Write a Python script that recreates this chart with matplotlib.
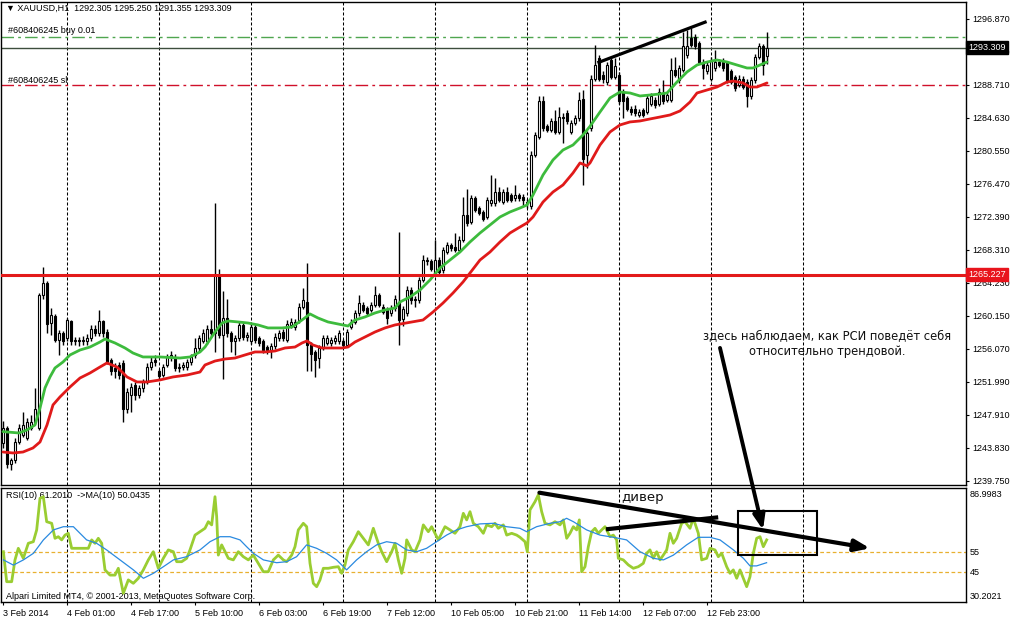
import matplotlib
matplotlib.use("Agg")
import matplotlib.pyplot as plt
from matplotlib.patches import Rectangle, ConnectionPatch
import numpy as np

# ---------------- data ----------------
opens = [1244.5,1246.3,1241.9,1242.3,1244.6,1245.4,1245.0,1246.3,1247.1,1246.3,
         1262.7,1264.2,1259.3,1260.1,1257.2,1258.0,1257.4,1259.5,1257.0,1257.2,
         1257.0,1257.0,1257.4,1258.6,1258.0,1259.5,1258.2,1254.7,1253.7,1254.1,
         1254.3,1248.7,1250.4,1251.6,1250.4,1251.2,1252.0,1253.9,1254.7,1253.3,
         1252.9,1254.1,1255.1,1255.0,1253.7,1253.9,1253.8,1254.4,1255.3,1256.2,
         1257.0,1257.0,1258.6,1258.0,1265.2,1257.8,1259.9,1258.0,1257.0,1257.4,
         1259.0,1257.6,1257.0,1258.8,1257.4,1257.0,1256.3,1256.0,1256.4,1257.4,
         1258.2,1257.2,1259.0,1258.8,1259.6,1261.3,1261.9,1256.6,1255.7,1254.9,
         1256.2,1256.8,1256.8,1257.0,1257.0,1257.0,1256.6,1258.8,1259.4,1260.5,
         1261.5,1261.1,1260.9,1261.5,1262.7,1261.3,1260.9,1260.5,1261.1,1261.9,
         1259.8,1260.5,1263.4,1262.3,1262.1,1264.6,1266.9,1266.9,1265.4,1267.1,
         1265.8,1268.1,1268.9,1268.7,1268.3,1269.6,1272.6,1271.8,1274.7,1273.5,
         1273.0,1272.4,1274.1,1274.1,1275.5,1274.3,1275.5,1275.1,1274.7,1275.1,
         1274.9,1274.3,1273.7,1280.1,1282.3,1286.7,1283.6,1283.2,1284.2,1282.9,
         1284.8,1285.2,1282.9,1284.0,1284.6,1287.0,1280.0,1283.4,1289.5,1292.0,
         1290.0,1289.1,1291.8,1289.7,1290.0,1287.9,1287.1,1285.8,1285.8,1285.0,
         1285.6,1285.4,1286.4,1286.9,1286.4,1287.7,1286.9,1286.9,1290.6,1289.3,
         1290.6,1292.4,1294.5,1294.7,1293.9,1291.6,1290.4,1289.5,1290.8,1291.6,
         1291.6,1291.4,1290.4,1289.7,1288.7,1289.5,1289.1,1287.3,1289.3,1292.2,
         1293.5,1292.305]
highs = [1247.2,1246.5,1242.6,1245.0,1246.8,1248.3,1247.5,1247.9,1251.2,1263.0,
         1266.2,1264.5,1261.1,1260.4,1258.4,1258.3,1259.9,1259.7,1257.6,1257.6,
         1257.7,1257.9,1259.0,1259.0,1260.9,1259.7,1258.6,1255.0,1254.3,1254.4,
         1254.7,1251.2,1251.8,1252.0,1251.6,1252.4,1254.3,1255.2,1255.3,1253.6,
         1254.2,1255.5,1255.8,1255.4,1254.3,1254.5,1254.8,1255.5,1257.4,1257.8,
         1258.6,1259.0,1259.6,1274.1,1266.0,1263.2,1262.3,1258.3,1257.8,1259.4,
         1259.3,1258.2,1259.2,1259.1,1257.7,1257.3,1256.6,1256.8,1258.0,1258.4,
         1258.6,1259.6,1259.9,1259.8,1261.7,1263.6,1266.7,1256.9,1256.0,1256.5,
         1257.8,1257.8,1257.6,1257.8,1258.4,1257.3,1258.6,1259.8,1260.9,1262.7,
         1261.9,1261.4,1261.9,1263.9,1263.0,1261.6,1261.2,1261.5,1262.7,1270.5,
         1261.4,1263.8,1263.7,1262.6,1265.0,1267.7,1267.5,1267.2,1269.5,1267.4,
         1268.7,1269.3,1269.2,1270.4,1270.0,1274.9,1275.9,1275.1,1275.0,1273.8,
         1273.3,1274.9,1277.6,1277.2,1276.1,1275.9,1276.1,1275.4,1276.3,1275.4,
         1275.2,1274.6,1280.5,1282.9,1287.3,1287.3,1283.9,1284.6,1285.6,1286.0,
         1285.2,1285.6,1284.4,1285.0,1287.9,1288.1,1283.0,1289.9,1293.7,1292.4,
         1290.4,1291.6,1292.1,1292.0,1290.3,1288.2,1287.4,1286.1,1286.2,1285.8,
         1285.9,1287.5,1287.7,1287.2,1288.3,1289.3,1287.9,1292.0,1292.2,1291.2,
         1295.3,1295.5,1295.7,1295.0,1294.2,1291.9,1291.6,1292.2,1293.0,1291.9,
         1292.0,1291.7,1290.7,1290.0,1289.9,1289.8,1289.4,1289.7,1292.6,1293.9,
         1293.8,1295.25]
lows = [1243.8,1241.3,1241.1,1242.0,1244.3,1245.2,1244.8,1246.0,1246.8,1246.0,
        1262.3,1258.0,1257.8,1256.9,1255.3,1256.5,1257.0,1256.6,1256.6,1256.4,
        1256.5,1256.6,1257.1,1257.7,1257.7,1257.5,1254.2,1252.9,1252.5,1252.4,
        1247.1,1248.2,1248.3,1249.8,1250.0,1250.8,1251.7,1253.5,1254.0,1252.3,
        1252.6,1253.8,1254.6,1253.4,1253.2,1253.5,1253.5,1254.1,1255.0,1255.8,
        1256.8,1256.7,1257.7,1255.7,1257.4,1252.4,1257.6,1255.7,1255.3,1257.0,
        1257.2,1257.0,1256.7,1256.8,1256.4,1255.6,1255.5,1254.9,1256.1,1257.1,
        1257.0,1256.9,1258.7,1258.4,1259.3,1261.0,1253.3,1253.3,1252.6,1253.7,
        1255.9,1256.5,1256.4,1256.7,1256.7,1256.2,1256.3,1258.5,1259.1,1260.2,
        1260.6,1260.1,1260.6,1261.2,1261.2,1260.4,1259.2,1260.2,1260.8,1256.5,
        1258.9,1260.2,1261.6,1261.3,1261.8,1264.3,1266.5,1265.7,1265.1,1265.2,
        1265.5,1267.8,1268.2,1268.0,1268.0,1269.3,1271.3,1271.5,1273.0,1272.6,
        1271.9,1272.1,1273.8,1273.8,1274.2,1274.0,1274.2,1274.2,1274.4,1274.4,
        1273.8,1273.5,1273.4,1279.8,1282.0,1283.0,1282.9,1282.9,1282.6,1282.6,
        1281.5,1283.9,1282.6,1283.7,1284.3,1276.3,1278.5,1283.0,1289.2,1289.2,
        1288.9,1288.7,1289.4,1289.4,1286.4,1284.6,1285.5,1285.0,1284.9,1284.7,
        1284.8,1285.1,1286.1,1285.9,1286.1,1286.4,1286.6,1286.6,1289.7,1289.0,
        1290.3,1292.1,1293.4,1293.2,1291.3,1289.5,1290.1,1289.2,1290.5,1290.9,
        1290.5,1289.0,1288.8,1288.0,1288.4,1288.2,1286.0,1287.0,1289.0,1291.9,
        1290.0,1291.355]
closes = [1246.3,1241.9,1242.4,1244.6,1246.3,1246.7,1247.1,1247.1,1248.7,1262.7,
          1264.2,1259.2,1260.3,1257.2,1258.0,1257.0,1259.6,1257.0,1257.2,1257.0,
          1257.1,1257.4,1258.6,1258.0,1259.5,1258.0,1254.5,1253.3,1253.3,1252.9,
          1248.7,1250.8,1251.4,1250.4,1251.2,1252.0,1253.9,1254.5,1254.5,1252.7,
          1253.9,1255.1,1255.3,1253.7,1253.9,1254.1,1254.4,1255.1,1256.2,1257.4,
          1258.0,1258.6,1258.0,1265.2,1257.8,1259.9,1258.0,1257.0,1257.4,1259.0,
          1257.6,1257.8,1258.8,1257.2,1256.8,1255.9,1256.0,1256.4,1257.6,1258.0,
          1257.4,1259.2,1259.4,1259.4,1261.3,1262.1,1256.6,1255.5,1254.7,1256.2,
          1257.4,1257.4,1257.2,1257.4,1258.0,1256.6,1258.2,1259.4,1260.5,1261.7,
          1260.9,1260.5,1261.5,1262.7,1261.5,1260.7,1259.9,1261.1,1262.3,1259.6,
          1261.0,1263.4,1262.1,1262.1,1264.6,1267.1,1267.1,1266.0,1267.1,1265.6,
          1268.3,1268.9,1268.5,1268.3,1269.6,1272.6,1271.6,1274.7,1273.3,1272.9,
          1272.2,1274.5,1274.5,1275.5,1274.5,1275.5,1274.5,1274.5,1275.1,1274.7,
          1274.5,1274.1,1280.1,1282.5,1286.7,1283.4,1283.2,1284.2,1282.9,1284.8,
          1284.6,1284.2,1284.0,1284.6,1286.9,1279.5,1282.8,1289.5,1291.2,1289.5,
          1289.5,1291.2,1289.7,1291.0,1286.7,1286.7,1285.8,1285.4,1285.2,1285.4,
          1285.0,1287.1,1287.3,1286.2,1287.9,1286.7,1287.5,1290.6,1290.0,1290.8,
          1293.5,1293.5,1293.7,1293.5,1291.6,1290.8,1291.2,1291.8,1291.6,1291.2,
          1290.8,1289.3,1289.1,1288.3,1289.5,1288.5,1287.3,1289.3,1292.2,1293.5,
          1291.2,1293.309]

ma_green_pos = [0, 4, 6, 8, 9.25, 10.5, 11.75, 13, 15, 16.75, 19.25, 21.75, 24.25, 25.5, 28,
                30.5, 32.5, 35, 39.25, 44.25, 46.75, 49.25, 50.5, 53, 54.75, 56.25, 58.75,
                61.25, 63.75, 66.25, 69.75, 72.25, 74.75, 76.75, 78.75, 81.25, 83.75, 86.25,
                88, 90.5, 93, 95.5, 98, 99.25, 101.75, 104.25, 106.75, 109.25, 111.75, 114.25,
                116.75, 119.25, 121.75, 124.25, 126.75, 129.25, 131, 132.5, 135, 137.5, 140,
                142.5, 145, 146.75, 149.25, 151.75, 154.25, 156.75, 159.25, 161.75, 164.25,
                166, 168.5, 171, 173.5, 176, 178.5, 181, 183.5, 186, 187.5, 189.25, 191]
ma_green_val = [1245.85, 1245.68, 1246.06, 1246.67, 1248.77, 1251.25, 1252.61, 1253.72, 1254.46,
                1255.33, 1255.94, 1256.31, 1256.93, 1257.30, 1256.81, 1256.19, 1255.57, 1255.08,
                1255.08, 1254.95, 1255.08, 1255.70, 1256.31, 1258.17, 1259.28, 1259.53, 1259.41,
                1259.28, 1259.04, 1258.67, 1258.67, 1258.79, 1259.65, 1260.40, 1259.90, 1259.41,
                1259.16, 1258.91, 1259.65, 1260.03, 1260.52, 1260.89, 1261.14, 1261.88, 1262.50,
                1263.36, 1264.60, 1266.08, 1267.07, 1268.06, 1269.30, 1270.41, 1271.40, 1272.39,
                1273.01, 1273.50, 1273.87, 1275.11, 1277.58, 1279.44, 1280.67, 1281.29, 1282.53,
                1283.6, 1285.37, 1287.10, 1287.84, 1287.72, 1287.35, 1287.47, 1287.60, 1287.72,
                1289.08, 1290.32, 1291.18, 1291.55, 1291.80, 1291.55, 1291.18, 1290.81, 1290.81,
                1291.18, 1291.55]

ma_red_pos = [0, 2.5, 5, 7.5, 9.25, 11, 12.5, 14.25, 16.75, 19.25, 21.75, 24.25, 26, 28.5, 31,
              33.5, 36, 39.25, 42.5, 46, 49.25, 50.5, 53, 55.5, 58, 60.5, 63, 65.5, 68, 70.5,
              73, 74.75, 76, 77.5, 79.75, 82.25, 84.75, 86.25, 88, 90.5, 93, 95.5, 98, 105,
              107.5, 110, 112.5, 115, 116.75, 119.25, 121.75, 124.25, 126.75, 129.25, 131,
              132.5, 135, 137.5, 140, 142.5, 144.25, 146, 146.75, 149.25, 151.75, 154.25,
              156.75, 159.25, 161.75, 164.25, 166.75, 169.25, 171.75, 173.5, 176, 178.5, 181,
              182.5, 185, 186.75, 188.5, 191]
ma_red_val = [1243.33, 1243.21, 1243.33, 1243.83, 1244.57, 1246.67, 1249.15, 1250.14, 1251.37,
              1252.48, 1253.10, 1253.84, 1254.34, 1253.84, 1252.61, 1251.99, 1251.99, 1252.24,
              1252.61, 1252.85, 1253.22, 1254.09, 1254.58, 1254.83, 1254.95, 1255.33, 1255.70,
              1255.70, 1255.82, 1256.19, 1256.31, 1256.81, 1257.06, 1256.56, 1256.19, 1256.19,
              1256.19, 1256.31, 1256.93, 1257.55, 1258.17, 1258.67, 1259.04, 1259.65, 1260.64,
              1261.75, 1262.99, 1264.35, 1265.46, 1267.07, 1268.06, 1269.30, 1270.41, 1271.15,
              1271.65, 1272.39, 1274.24, 1275.48, 1276.35, 1277.83, 1279.07, 1278.70, 1279.07,
              1281.29, 1282.90, 1283.77, 1284.14, 1284.26, 1284.51, 1284.75, 1285.00, 1285.5,
              1286.6, 1287.72, 1288.09, 1288.46, 1289.08, 1289.20, 1288.96, 1288.46, 1288.46,
              1288.96]

rsi_pos = [0.1, 0.92, 2.17, 3.0, 3.83, 5.08, 6.33, 7.58, 8.42, 9.25,
           10.08, 10.92, 12.17, 13.0, 13.83, 14.67, 15.5, 16.33, 17.17, 18.83,
           21.33, 22.17, 23.0, 23.83, 24.67, 25.5, 26.75, 28.0, 28.83, 30.08,
           31.33, 32.58, 33.83, 35.08, 36.33, 37.58, 38.83, 40.08, 41.33, 42.58,
           43.42, 44.67, 45.92, 46.75, 48.0, 49.25, 50.5, 51.33, 52.17, 53.0,
           53.42, 53.83, 54.67, 55.5, 56.33, 57.58, 58.83, 60.08, 61.33, 62.58,
           63.83, 65.08, 66.33, 67.58, 68.83, 70.08, 70.92, 72.17, 73.0, 73.83,
           75.08, 75.92, 76.75, 77.58, 78.42, 79.25, 80.08, 81.33, 82.58, 83.83,
           84.67, 85.5, 86.33, 87.58, 88.83, 90.08, 91.33, 92.58, 93.83, 94.67,
           95.92, 97.17, 98.0, 98.83, 99.67, 100.5, 100.92, 102.17, 103.0, 104.25,
           105.08, 106.33, 107.17, 108.0, 108.83, 109.67, 110.5, 111.75, 113.0, 114.25,
           115.08, 115.92, 116.75, 117.58, 118.83, 120.08, 120.92, 122.17, 123.0, 123.83,
           125.08, 125.92, 127.17, 128.42, 129.25, 130.5, 131.08, 131.75, 133.0, 133.83,
           134.67, 135.5, 136.75, 138.0, 139.25, 140.08, 140.92, 141.75, 142.58, 143.42,
           144.08, 144.67, 145.5, 146.33, 147.17, 148.0, 148.83, 149.67, 150.5, 151.75,
           152.58, 153.42, 153.83, 155.08, 156.33, 157.58, 158.83, 160.08, 160.92, 161.75,
           162.58, 163.42, 164.25, 165.08, 165.92, 166.75, 167.58, 168.42, 169.67, 170.5,
           171.75, 172.58, 173.83, 174.67, 175.92, 176.75, 178.0, 178.83, 179.67, 180.92,
           181.75, 182.58, 183.42, 184.25, 185.08, 185.92, 186.75, 187.58, 188.42, 189.25,
           190.08, 190.92]
rsi_val = [55.3, 40.3, 40.3, 51.2, 57.0, 52.0, 59.5, 60.3, 66.2, 82.0,
           82.8, 70.3, 69.5, 62.0, 62.8, 61.2, 63.6, 64.5, 57.0, 57.0,
           57.0, 61.2, 59.5, 62.0, 59.5, 46.2, 43.6, 43.6, 47.0, 34.5,
           41.2, 39.5, 42.0, 46.2, 51.2, 55.3, 47.0, 52.0, 56.2, 55.3,
           50.3, 50.3, 52.0, 56.2, 63.6, 65.3, 67.0, 70.3, 68.7, 82.8,
           72.8, 53.6, 58.7, 55.3, 52.0, 51.2, 55.3, 52.8, 51.2, 53.6,
           49.5, 45.3, 45.3, 51.2, 53.6, 51.2, 50.3, 53.6, 57.8, 66.2,
           69.5, 67.8, 49.5, 39.5, 37.8, 41.2, 47.0, 47.0, 47.5, 47.8,
           44.5, 48.7, 56.2, 60.3, 65.3, 62.0, 58.7, 67.0, 59.5, 55.3,
           50.3, 55.3, 59.5, 51.2, 44.5, 52.0, 61.2, 56.2, 55.3, 61.2,
           68.7, 65.3, 67.8, 64.5, 61.2, 64.5, 67.8, 66.2, 64.5, 67.8,
           74.5, 71.2, 75.3, 69.5, 67.8, 64.5, 68.7, 67.8, 69.5, 67.0,
           68.7, 63.6, 64.5, 63.6, 62.5, 60.3, 55.3, 76.2, 80.3, 83.7,
           75.3, 69.5, 68.7, 70.3, 68.7, 71.2, 62.0, 64.5, 67.8, 66.2,
           71.2, 45.3, 47.8, 57.8, 65.3, 67.0, 64.5, 66.2, 67.8, 62.8,
           63.6, 61.2, 52.0, 51.2, 48.7, 47.0, 47.8, 49.5, 54.5, 56.2,
           52.0, 55.3, 51.2, 53.6, 56.2, 64.5, 59.5, 62.0, 69.5, 70.3,
           67.0, 72.0, 64.5, 51.2, 52.0, 57.0, 56.2, 52.8, 54.5, 47.8,
           44.5, 46.2, 42.0, 46.2, 42.0, 37.8, 42.8, 54.5, 62.0, 62.8,
           57.8, 61.2]

rsi_ma_pos = [0.1, 2.6, 5.1, 7.6, 10.1, 12.6, 15.1, 17.6, 19.25, 20.9,
              23.4, 25.9, 29.25, 32.6, 35.1, 37.6, 40.1, 42.6, 45.9, 49.25,
              51.75, 54.25, 56.75, 59.25, 60.9, 62.6, 65.1, 68.4, 70.9, 73.4,
              75.9, 78.4, 80.9, 83.4, 85.9, 88.4, 90.9, 93.4, 95.9, 98.4,
              100.9, 103.4, 105.9, 108.4, 110.9, 113.4, 115.9, 119.25, 122.6, 125.9,
              129.25, 130.9, 133.4, 136.75, 139.25, 140.9, 142.6, 145.9, 149.25, 152.6,
              155.9, 159.25, 162.6, 165.1, 167.6, 170.9, 173.8, 176.75, 179.25, 182.6,
              185.1, 186.75, 188.4, 190.9]
rsi_ma_val = [51.2, 48.6, 51.2, 54.5, 61.2, 66.2, 67.8, 67.8, 64.5, 61.2,
              59.5, 56.2, 51.2, 46.2, 42.0, 44.5, 47.8, 51.2, 52.8, 56.2,
              60.3, 62.8, 62.8, 61.2, 57.8, 54.5, 51.2, 49.8, 50.3, 52.8,
              58.7, 57.0, 54.5, 51.2, 46.2, 51.2, 55.3, 58.7, 60.3, 59.5,
              56.2, 55.3, 57.0, 60.3, 63.6, 66.2, 67.8, 69.2, 69.5, 67.8,
              67.0, 65.3, 67.8, 69.5, 70.3, 72.0, 70.3, 66.2, 63.6, 62.5,
              61.2, 55.3, 52.0, 51.2, 53.6, 58.7, 62.5, 62.5, 61.2, 56.2,
              52.0, 48.2, 48.2, 49.8]

price_ticks = [1296.870, 1292.790, 1288.710, 1284.630, 1280.550, 1276.470, 1272.390,
               1268.310, 1264.230, 1260.150, 1256.070, 1251.990, 1247.910, 1243.830, 1239.750]
time_tick_bars = [0, 16, 32, 48, 64, 80, 96, 112, 128, 144, 160, 176]
time_tick_labels = ['3 Feb 2014', '4 Feb 01:00', '4 Feb 17:00', '5 Feb 10:00', '6 Feb 03:00',
                    '6 Feb 19:00', '7 Feb 12:00', '10 Feb 05:00', '10 Feb 21:00',
                    '11 Feb 14:00', '12 Feb 07:00', '12 Feb 23:00']
grid_bars = [16, 39, 62, 85, 108, 131, 154, 177, 200]

buy_price = 1294.61
bid_price = 1293.309
sl_price = 1288.71
level_price = 1265.227
rsi_levels = [55, 45]
rsi_top, rsi_bottom = 86.9983, 30.2021

trend_price_x = [148.6, 175.9]
trend_price_y = [1291.45, 1296.55]
rsi_div_long = [(134.1, 84.8), (216.75, 57.0)]
rsi_div_short_x = [150.75, 178.8]
rsi_div_short_y = [66.5, 72.5]
rsi_box = (183.7, 53.6, 19.8, 22.2)
note_arrow_start = (179.25, 1256.2)
note_arrow_end = (190.0, 66.2)

# ---------------- figure ----------------
W, H = 1017, 621
fig = plt.figure(figsize=(W / 100, H / 100), dpi=100)
fig.patch.set_facecolor('white')
ax = fig.add_axes([1 / W, 1 - 485 / H, 965 / W, 483 / H])
rx = fig.add_axes([1 / W, 1 - 602 / H, 965 / W, 114.5 / H])

LAB = ['Liberation Sans', 'DejaVu Sans']
XMIN, XMAX = -0.5, 240.75
for a in (ax, rx):
    a.set_xlim(XMIN, XMAX)
    for s in a.spines.values():
        s.set_color('black')
        s.set_linewidth(1.0)
    a.vlines(grid_bars, 0, 1, transform=a.get_xaxis_transform(), colors='black',
             linewidth=0.75, linestyles=(0, (2.9, 1.9)), zorder=1)

ax.set_ylim(1239.25, 1298.97)
rx.set_ylim(30.15, 87.4)

# horizontal levels
ax.axhline(buy_price, color='#4fa64f', lw=1.0, dashes=(9, 3, 2, 3), zorder=2)
ax.axhline(bid_price, color='#3d4d3d', lw=1.0, zorder=2)
ax.axhline(sl_price, color='#d0102a', lw=1.0, dashes=(9, 3, 2, 3), zorder=2)

# candles
o = np.array(opens); h = np.array(highs); l = np.array(lows); c = np.array(closes)
idx = np.arange(len(c))
ax.vlines(idx, l, h, colors='black', linewidth=1.0, zorder=3)
bottoms = np.minimum(o, c)
heights = np.maximum(np.abs(c - o), 0.12)
cols = ['white' if cc >= oo else 'black' for oo, cc in zip(o, c)]
ax.bar(idx, heights, bottom=bottoms, width=0.5, color=cols, edgecolor='black',
       linewidth=0.8, zorder=4)

ax.plot(ma_green_pos, ma_green_val, color='#3dbb3d', lw=2.0, zorder=5, solid_capstyle='round')
ax.plot(ma_red_pos, ma_red_val, color='#e01a1a', lw=2.0, zorder=5, solid_capstyle='round')
ax.axhline(level_price, color='#e31a1a', lw=2.2, zorder=6)

ax.plot(trend_price_x, trend_price_y, color='black', lw=2.3, zorder=7, solid_capstyle='butt')

# axes ticks
ax.yaxis.tick_right()
ax.set_yticks(price_ticks)
ax.set_yticklabels(['%.3f' % v for v in price_ticks], family=LAB, fontsize=6.5)
ax.tick_params(axis='y', length=2.5, width=0.8, pad=2, colors='black')
ax.tick_params(axis='x', bottom=False, labelbottom=False)

for price, fc in ((bid_price, 'black'), (level_price, '#e8141c')):
    ax.text(1.0025, price, '%.3f' % price, transform=ax.get_yaxis_transform(),
            ha='left', va='center', fontsize=6.5, family=LAB, color='white', zorder=10,
            clip_on=False, bbox=dict(boxstyle='square,pad=0.22', fc=fc, ec=fc))

ax.text(0.0052, 0.9876, '\u25bc XAUUSD,H1  1292.305 1295.250 1291.355 1293.309',
        transform=ax.transAxes, ha='left', va='center', fontsize=6.5, family=LAB)
ax.text(0.0073, 0.9405, '#608406245 buy 0.01', transform=ax.transAxes, ha='left',
        va='center', fontsize=6.5, family=LAB)
ax.text(0.0073, 0.8385, '#608406245 sl', transform=ax.transAxes, ha='left',
        va='center', fontsize=6.5, family=LAB)

ax.text(206.1, 1256.7, 'здесь наблюдаем, как РСИ поведёт себя\nотносительно трендовой.',
        ha='center', va='center', fontsize=8.3, family=['DejaVu Sans'], color='#111111',
        linespacing=1.3, zorder=8)

# RSI panel
for lv in rsi_levels:
    rx.axhline(lv, color='#e8b030', lw=0.9, dashes=(3, 2), zorder=2)
rx.plot(rsi_pos, rsi_val, color='#9acd32', lw=2.0, zorder=4)
rx.plot(rsi_ma_pos, rsi_ma_val, color='#2a8ae0', lw=0.9, zorder=5)

rx.set_yticks([])
rx.set_xticks(time_tick_bars)
rx.set_xticklabels(time_tick_labels, family=LAB, fontsize=6.5, ha='left')
rx.tick_params(axis='x', length=2.5, width=0.8, pad=2.5)

rx.text(1.004, 0.94, '%.4f' % rsi_top, transform=rx.transAxes, ha='left', va='center',
        fontsize=6.5, family=LAB, clip_on=False)
for lv in rsi_levels:
    rx.text(1.004, lv, str(lv), transform=rx.get_yaxis_transform(), ha='left', va='center',
            fontsize=6.5, family=LAB, clip_on=False)
rx.text(1.004, 0.045, '%.4f' % rsi_bottom, transform=rx.transAxes, ha='left', va='center',
        fontsize=6.5, family=LAB, clip_on=False)

rx.text(0.0052, 0.926, 'RSI(10) 61.2010  ->MA(10) 50.0435', transform=rx.transAxes,
        ha='left', va='center', fontsize=6.5, family=LAB)
rx.text(0.0052, 0.052, 'Alpari Limited MT4, \u00a9 2001-2013, MetaQuotes Software Corp.',
        transform=rx.transAxes, ha='left', va='center', fontsize=6.5, family=LAB)

rx.text(160, 82.6, 'дивер', ha='center', va='center', fontsize=9.5,
        family=['DejaVu Sans'], color='#111111', zorder=8)

rx.annotate('', xy=rsi_div_long[1], xytext=rsi_div_long[0], annotation_clip=False,
            arrowprops=dict(arrowstyle='-|>,head_length=0.9,head_width=0.35', lw=3,
                            color='black', shrinkA=0, shrinkB=0), zorder=7)
rx.plot(rsi_div_short_x, rsi_div_short_y, color='black', lw=3, zorder=7, solid_capstyle='butt')
rx.add_patch(Rectangle(rsi_box[:2], rsi_box[2], rsi_box[3], fill=False, ec='black',
                       lw=1.5, zorder=7))

con = ConnectionPatch(xyA=note_arrow_start, coordsA=ax.transData,
                      xyB=note_arrow_end, coordsB=rx.transData,
                      arrowstyle='-|>,head_length=0.9,head_width=0.35', lw=2.8,
                      color='black', shrinkA=0, shrinkB=0, zorder=20)
fig.add_artist(con)

fig.savefig('out.png', dpi=100, facecolor='white')
